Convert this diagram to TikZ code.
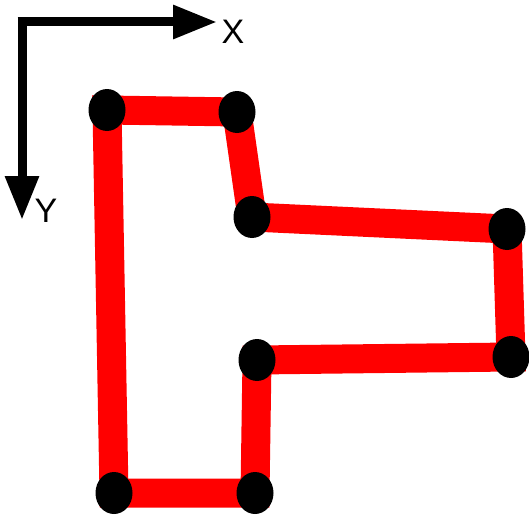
\documentclass[tikz,border=0pt]{standalone}
\usepackage{fontspec}
\setmainfont{Liberation Sans}
\usetikzlibrary{shapes.geometric,arrows.meta}
\tikzset{
  vertex/.style={ellipse,fill=black,minimum width=37pt,minimum height=42pt,inner sep=0pt},
  edge/.style={red,line width=29pt},
  axis/.style={line width=9pt,-{Triangle[length=44pt,width=32pt]}},
  axislabel/.style={font=\fontsize{34}{34}\selectfont,inner sep=0pt}
}
\begin{document}
\begin{tikzpicture}[x=1pt,y=-1pt]
\useasboundingbox (0,0) rectangle (529,519);
% axes
\coordinate (xs) at (17.5,22);
\coordinate (ys) at (22,17.5);
\coordinate (xe) at (217,22);
\coordinate (ye) at (22,220);
\draw[axis] (xs) -- (xe);
\draw[axis] (ys) -- (ye);
\node[axislabel] (xl) at (233,32) {X};
\node[axislabel] (yl) at (46,211) {Y};
% vertices
\coordinate (p1) at (107,110);
\coordinate (p2) at (237,112);
\coordinate (p3) at (252,217);
\coordinate (p4) at (507,229);
\coordinate (p5) at (511,357);
\coordinate (p6) at (257,360);
\coordinate (p7) at (255,493);
\coordinate (p8) at (114,493);
\draw[edge] (p1) -- (p2) -- (p3) -- (p4) -- (p5) -- (p6) -- (p7) -- (p8) -- cycle;
\foreach \p in {p1,p2,p3,p4,p5,p6,p7,p8}
  \node[vertex] (n\p) at (\p) {};
\end{tikzpicture}
\end{document}
